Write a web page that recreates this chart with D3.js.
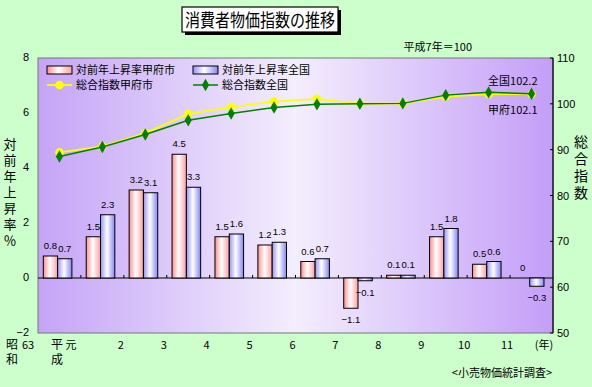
<!DOCTYPE html>
<html>
<head>
<meta charset="utf-8">
<script src="https://cdn.jsdelivr.net/npm/d3@7"></script>
<style>
  body { margin: 0; background: #ccffcc; }
  svg { display: block; }
  text { font-family: "Noto Sans CJK JP", "Noto Sans", sans-serif; fill: #000; }
  text.num { font-family: "Liberation Sans", Arial, sans-serif; }
  text.vert { writing-mode: vertical-rl; text-orientation: upright; }
</style>
</head>
<body>
<svg></svg>
<script>
// categories (years)
const years = ["63", "元", "2", "3", "4", "5", "6", "7", "8", "9", "10", "11"];
const yearLabels = ["63", "元", "2", "3", "4", "5", "6", "7", "8", "9", "10", "11"];
// year-over-year rise (%)
const rateKofu = [0.8, 1.5, 3.2, 4.5, 1.5, 1.2, 0.6, -1.1, 0.1, 1.5, 0.5, 0];
const rateZenkoku = [0.7, 2.3, 3.1, 3.3, 1.6, 1.3, 0.7, -0.1, 0.1, 1.8, 0.6, -0.3];
// composite index (H7 = 100)
const indexKofu = [89.4, 90.7, 93.6, 97.8, 99.3, 100.5, 101.1, 100.0, 100.1, 101.6, 102.1, 102.1];
const indexZenkoku = [88.5, 90.6, 93.3, 96.4, 97.9, 99.2, 99.9, 100.0, 100.1, 101.9, 102.5, 102.2];
const leftTicks = [-2, 0, 2, 4, 6, 8];
const rightTicks = [50, 60, 70, 80, 90, 100, 110];

const width = 592, height = 387;
const plotL = 38, plotR = 553, plotT = 58, plotB = 333;

const svg = d3.select("svg").attr("width", width).attr("height", height);
const defs = svg.append("defs");

// plot background gradient purple -> pale -> purple
const bg = defs.append("linearGradient").attr("id", "plotbg");
bg.append("stop").attr("offset", "0%").attr("stop-color", "#c5a4f7");
bg.append("stop").attr("offset", "50%").attr("stop-color", "#f3eefd");
bg.append("stop").attr("offset", "100%").attr("stop-color", "#c49ef8");

function barGrad(id, edge, edge2) {
  const g = defs.append("linearGradient").attr("id", id);
  g.append("stop").attr("offset", "0%").attr("stop-color", edge);
  g.append("stop").attr("offset", "45%").attr("stop-color", "#ffffff");
  g.append("stop").attr("offset", "100%").attr("stop-color", edge2);
}
barGrad("gred", "#ff8c8c", "#ff9f9f");
barGrad("gblue", "#9393ff", "#8585f5");

const x = d3.scaleBand().domain(years).range([plotL, plotR]);
const xs = d3.scaleBand().domain(["kofu", "zenkoku"]).range([0, x.bandwidth()])
  .paddingOuter(0.5).align(0.37);
const yL = d3.scaleLinear().domain([-2, 8]).range([plotB, plotT]);
const yR = d3.scaleLinear().domain([50, 110]).range([plotB, plotT]);

const fmt = d => d < 0 ? "−" + Math.abs(d) : String(d);

// title
svg.append("rect").attr("x", 185).attr("y", 10).attr("width", 156).attr("height", 25).attr("fill", "#000");
svg.append("rect").attr("x", 182).attr("y", 7).attr("width", 156).attr("height", 25)
  .attr("fill", "#fff").attr("stroke", "#000").attr("stroke-width", 1.2);
svg.append("text").attr("x", 185).attr("y", 27).attr("font-size", 18)
  .attr("textLength", 150).attr("lengthAdjust", "spacingAndGlyphs")
  .text("消費者物価指数の推移");

svg.append("text").attr("x", 472).attr("y", 51).attr("text-anchor", "end")
  .attr("font-size", 11).text("平成7年＝100");

// plot area
svg.append("rect").attr("x", plotL).attr("y", plotT).attr("width", plotR - plotL).attr("height", plotB - plotT)
  .attr("fill", "url(#plotbg)").attr("stroke", "#777").attr("stroke-width", 1);

// zero line and ticks
svg.append("line").attr("x1", plotL).attr("x2", plotR).attr("y1", yL(0)).attr("y2", yL(0))
  .attr("stroke", "#000");
svg.selectAll(".xtick").data(years.slice(1)).enter().append("line")
  .attr("x1", d => x(d)).attr("x2", d => x(d))
  .attr("y1", yL(0) - 3).attr("y2", yL(0)).attr("stroke", "#000");

// bars
const series = [
  { key: "kofu", values: rateKofu, fill: "url(#gred)" },
  { key: "zenkoku", values: rateZenkoku, fill: "url(#gblue)" }
];
series.forEach(s => {
  const g = svg.append("g");
  g.selectAll("rect").data(s.values).enter().append("rect")
    .filter(d => d !== 0)
    .attr("x", (d, i) => x(years[i]) + xs(s.key))
    .attr("width", xs.bandwidth())
    .attr("y", d => yL(Math.max(0, d)))
    .attr("height", d => Math.abs(yL(d) - yL(0)))
    .attr("fill", s.fill).attr("stroke", "#000").attr("stroke-width", 1);
  g.selectAll("text").data(s.values).enter().append("text")
    .attr("class", "num")
    .attr("x", (d, i) => x(years[i]) + xs(s.key) + xs.bandwidth() / 2)
    .attr("y", d => d < 0 ? yL(d) + 15 : yL(d) - 7)
    .attr("text-anchor", "middle").attr("font-size", 9.5)
    .text(fmt);
});

// index lines
const cx = (d, i) => x(years[i]) + x.bandwidth() / 2;
const line = d3.line().x(cx).y(d => yR(d));
svg.append("path").datum(indexKofu).attr("d", line)
  .attr("fill", "none").attr("stroke", "#ffff00").attr("stroke-width", 1.8);
svg.selectAll(".mk").data(indexKofu).enter().append("circle")
  .attr("cx", cx).attr("cy", d => yR(d)).attr("r", 4.3).attr("fill", "#ffff00");
svg.append("path").datum(indexZenkoku).attr("d", line)
  .attr("fill", "none").attr("stroke", "#008000").attr("stroke-width", 1.5);
const diamond = d3.symbol().type(d3.symbolDiamond).size(45);
svg.selectAll(".dm").data(indexZenkoku).enter().append("path")
  .attr("d", diamond).attr("transform", (d, i) => `translate(${cx(d, i)},${yR(d)})`)
  .attr("fill", "#008000");

const last = indexZenkoku.length - 1;
svg.append("text").attr("x", cx(0, last) + 6).attr("y", yR(indexZenkoku[last]) - 9)
  .attr("text-anchor", "end").attr("font-size", 11).text("全国102.2");
svg.append("text").attr("x", cx(0, last) + 6).attr("y", yR(indexKofu[last]) + 20)
  .attr("text-anchor", "end").attr("font-size", 11).text("甲府102.1");

// left axis labels
svg.selectAll(".lt").data(leftTicks).enter().append("text")
  .attr("class", "num")
  .attr("x", 29).attr("y", d => yL(d) + 3).attr("text-anchor", "end").attr("font-size", 11)
  .text(fmt);

// right axis
svg.append("line").attr("x1", plotR).attr("x2", plotR).attr("y1", plotT).attr("y2", plotB)
  .attr("stroke", "#000").attr("stroke-width", 1.2);
svg.selectAll(".rtk").data(rightTicks).enter().append("line")
  .attr("x1", plotR - 3).attr("x2", plotR).attr("y1", d => yR(d)).attr("y2", d => yR(d))
  .attr("stroke", "#000");
svg.selectAll(".rt").data(rightTicks).enter().append("text")
  .attr("class", "num")
  .attr("x", 557).attr("y", d => yR(d) + 4).attr("font-size", 11).text(d => d);

// axis titles (vertical)
svg.append("text").attr("class", "vert").attr("x", 10).attr("y", 138)
  .attr("font-size", 13).attr("letter-spacing", 3).text("対前年上昇率％");
svg.append("text").attr("class", "vert").attr("x", 581).attr("y", 135)
  .attr("font-size", 14).attr("letter-spacing", 3).text("総合指数");

// category labels
svg.selectAll(".cl").data(yearLabels).enter().append("text")
  .attr("x", d => d === "63" ? x(d) - 10 : d === "元" ? x(d) - 10 : x(d) - 3)
  .attr("y", 349).attr("text-anchor", "middle").attr("font-size", 11)
  .text(d => d);
svg.append("text").attr("class", "vert").attr("x", 12).attr("y", 338)
  .attr("font-size", 12).attr("letter-spacing", 3).text("昭和");
svg.append("text").attr("class", "vert").attr("x", 57).attr("y", 338)
  .attr("font-size", 12).attr("letter-spacing", 3).text("平成");
svg.append("text").attr("x", 544).attr("y", 349).attr("text-anchor", "middle")
  .attr("font-size", 11).text("(年)");
svg.append("text").attr("x", 552).attr("y", 377).attr("text-anchor", "end")
  .attr("font-size", 11).text("<小売物価統計調査>");

// legend
const lg = svg.append("g");
const items = [
  { type: "bar", fill: "url(#gred)", label: "対前年上昇率甲府市", x: 47, y: 70 },
  { type: "bar", fill: "url(#gblue)", label: "対前年上昇率全国", x: 193, y: 70 },
  { type: "circle", color: "#ffff00", label: "総合指数甲府市", x: 47, y: 85 },
  { type: "diamond", color: "#008000", label: "総合指数全国", x: 193, y: 85 }
];
items.forEach(it => {
  if (it.type === "bar") {
    lg.append("rect").attr("x", it.x).attr("y", it.y - 4).attr("width", 25).attr("height", 8)
      .attr("fill", it.fill).attr("stroke", "#000");
  } else {
    lg.append("line").attr("x1", it.x).attr("x2", it.x + 25).attr("y1", it.y).attr("y2", it.y)
      .attr("stroke", it.color).attr("stroke-width", it.type === "circle" ? 1.8 : 1.5);
    if (it.type === "circle") {
      lg.append("circle").attr("cx", it.x + 12.5).attr("cy", it.y).attr("r", 4.3).attr("fill", it.color);
    } else {
      lg.append("path").attr("d", diamond).attr("transform", `translate(${it.x + 12.5},${it.y})`)
        .attr("fill", it.color);
    }
  }
  lg.append("text").attr("x", it.x + 29).attr("y", it.y + 4).attr("font-size", 11).text(it.label);
});
</script>
</body>
</html>
